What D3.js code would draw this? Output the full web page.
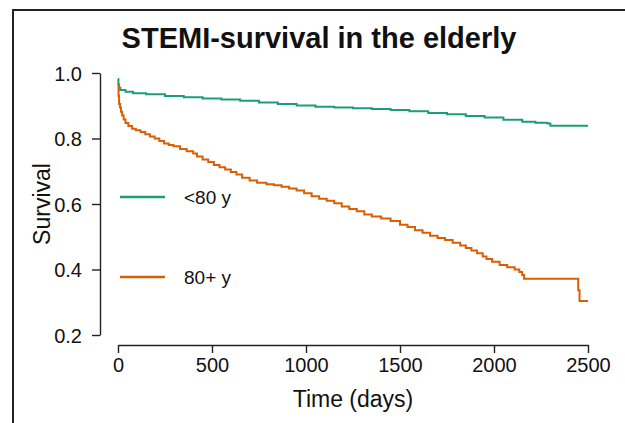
<!DOCTYPE html>
<html>
<head>
<meta charset="utf-8">
<script src="https://cdn.jsdelivr.net/npm/d3@7"></script>
<style>
  body { margin: 0; background: #fff; }
  text { font-family: "Liberation Sans", Arial, sans-serif; fill: #111; }
</style>
</head>
<body>
<div id="chart"></div>
<script>
let exteriorWidth  = 625,
    exteriorHeight = 423;

let colorPalette = ["#1b9e77", "#d95f02"];

let groups = ["<80 y", "80+ y"];

let xTicks = [0, 500, 1000, 1500, 2000, 2500];
let yTicks = [0.2, 0.4, 0.6, 0.8, 1.0];

// Kaplan-Meier steps: [days, survival]
let youngSteps = [
  [0, 0.982], [2, 0.965], [6, 0.955], [12, 0.948], [40, 0.943],
  [80, 0.938], [150, 0.935], [250, 0.930], [350, 0.926], [450, 0.922],
  [550, 0.919], [650, 0.915], [750, 0.910], [850, 0.905], [950, 0.901],
  [1050, 0.897], [1150, 0.895], [1250, 0.892], [1350, 0.890], [1450, 0.887],
  [1550, 0.883], [1650, 0.878], [1750, 0.874], [1850, 0.869], [1950, 0.864],
  [2050, 0.857], [2150, 0.851], [2220, 0.848], [2285, 0.846], [2300, 0.839],
  [2500, 0.839]
];

let elderlySteps = [
  [0, 0.965], [3, 0.930], [6, 0.905], [11, 0.895], [16, 0.882],
  [22, 0.870], [30, 0.858], [40, 0.847], [55, 0.838], [75, 0.830],
  [95, 0.825], [120, 0.820], [145, 0.813], [170, 0.806], [195, 0.800],
  [220, 0.792], [245, 0.785], [270, 0.780], [295, 0.776], [330, 0.768],
  [365, 0.761], [400, 0.754], [420, 0.745], [450, 0.736], [480, 0.728],
  [510, 0.719], [540, 0.712], [570, 0.705], [600, 0.698], [630, 0.690],
  [660, 0.680], [700, 0.672], [740, 0.665], [790, 0.660], [830, 0.657],
  [870, 0.653], [910, 0.647], [950, 0.641], [990, 0.633], [1030, 0.624],
  [1070, 0.616], [1110, 0.610], [1150, 0.602], [1190, 0.592], [1230, 0.585],
  [1270, 0.578], [1310, 0.568], [1350, 0.562], [1400, 0.556], [1450, 0.548],
  [1500, 0.537], [1540, 0.530], [1580, 0.520], [1620, 0.512], [1660, 0.503],
  [1700, 0.496], [1740, 0.490], [1780, 0.482], [1820, 0.473], [1850, 0.466],
  [1880, 0.458], [1910, 0.450], [1940, 0.440], [1960, 0.432], [1990, 0.424],
  [2030, 0.414], [2070, 0.407], [2110, 0.400], [2135, 0.392], [2150, 0.383],
  [2160, 0.372], [2448, 0.337], [2455, 0.304], [2500, 0.304]
];

let svg =
  d3.select("#chart")
    .append("svg")
      .attr("width", exteriorWidth)
      .attr("height", exteriorHeight);

// frame (left and top edges of the cropped figure)
svg.append("path")
    .attr("d", "M13,423V10H625")
    .attr("fill", "none")
    .attr("stroke", "#222")
    .attr("stroke-width", 2);

let x =
  d3.scaleLinear()
    .domain([0, 2500])
    .range([118, 588]);

let y =
  d3.scaleLinear()
    .domain([0.2, 1.0])
    .range([335, 73]);

let z =
  d3.scaleOrdinal()
    .domain(groups)
    .range(colorPalette);

let xAxis = svg.append("g")
    .attr("transform", translate(0, 345))
    .call(d3.axisBottom(x).tickValues(xTicks).tickSize(8).tickSizeOuter(0).tickPadding(5)
            .tickFormat(d3.format("d")));

let yAxis = svg.append("g")
    .attr("transform", translate(100, 0))
    .call(d3.axisLeft(y).tickValues(yTicks).tickSize(8).tickSizeOuter(0).tickPadding(10)
            .tickFormat(d3.format(".1f")));

[xAxis, yAxis].forEach(function(g) {
  g.selectAll("path, line").attr("stroke", "#222").attr("stroke-width", 1.4);
  g.selectAll("text")
    .style("font-size", "20px")
    .style("font-family", "Liberation Sans, Arial, sans-serif")
    .attr("fill", "#111");
});
yAxis.selectAll("text").attr("dy", "0.35em");

svg.append("text")
    .attr("x", 319)
    .attr("y", 48)
    .attr("text-anchor", "middle")
    .style("font-size", "29px")
    .style("font-weight", "bold")
    .text("STEMI-survival in the elderly");

svg.append("text")
    .attr("x", 353)
    .attr("y", 407)
    .attr("text-anchor", "middle")
    .style("font-size", "23px")
    .text("Time (days)");

svg.append("text")
    .attr("transform", "translate(50,204) rotate(-90)")
    .attr("text-anchor", "middle")
    .style("font-size", "23px")
    .text("Survival");

let line =
  d3.line()
    .x(function(d) { return x(d[0]); })
    .y(function(d) { return y(d[1]); })
    .curve(d3.curveStepAfter);

svg.selectAll(".km")
    .data([youngSteps, elderlySteps])
  .enter().append("path")
    .attr("class", "km")
    .attr("d", line)
    .attr("fill", "none")
    .attr("stroke", function(d, i) { return z(groups[i]); })
    .attr("stroke-width", 2);

let legend = svg.selectAll(".legend")
    .data(groups)
  .enter().append("g")
    .attr("class", "legend")
    .attr("transform", function(d, i) { return translate(120, 197 + i * 80); });

legend.append("line")
    .attr("x1", 0)
    .attr("x2", 45)
    .attr("stroke", function(d) { return z(d); })
    .attr("stroke-width", 2.5);

legend.append("text")
    .attr("x", 64)
    .attr("dy", "0.35em")
    .style("font-size", "19px")
    .text(function(d) { return d; });

function translate(x, y=0) {
  return "translate({x}, {y})"
          .replace("{x}", x)
          .replace("{y}", y);
}
</script>
</body>
</html>
